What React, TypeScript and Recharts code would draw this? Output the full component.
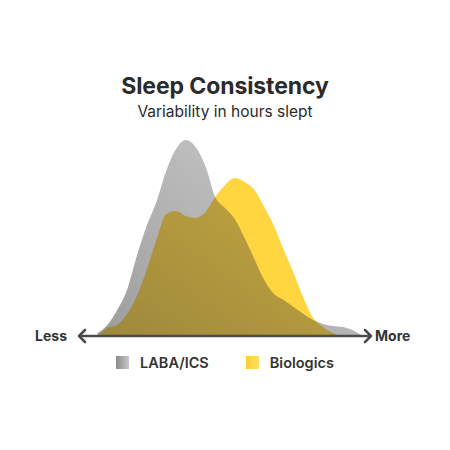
import { AreaChart, Area, XAxis, YAxis, ReferenceLine } from "recharts";

// variability grid (arbitrary units, left = less, right = more)
const spread = [2, 3, 4, 5, 6, 7, 8, 9, 10, 11, 12, 13, 14, 15, 16, 17, 18, 19, 20, 21, 22, 23, 24, 25, 26, 27, 28, 29];
const labaIcs = [3, 11, 26, 46, 80, 110, 134, 165, 187, 196, 189, 170, 139, 128, 117, 98, 77, 56, 42, 36, 29, 22, 16, 12, 10, 9, 6, 0];
const biologics = [0, 8, 11, 22, 40, 66, 96, 122, 125, 120, 118, 124, 139, 151, 158, 154, 146, 129, 110, 86, 63, 38, 18, 9, 3, 0, 0, 0];
const seriesNames = ["LABA/ICS", "Biologics"];
const axisEnds = ["Less", "More"];

const data = spread.map((x, i) => ({ x, laba: labaIcs[i], bio: biologics[i] }));

const FONT = "Inter, 'Noto Sans', sans-serif";

const ArrowAxis = (props: any) => {
  const { x1, y1, x2 } = props;
  const y = y1;
  return (
    <g>
      <line x1={x1 + 1} y1={y} x2={x2 - 1} y2={y} stroke="#4a4a4a" strokeWidth={2.5} />
      <polyline points={`${x1 + 7},${y - 6} ${x1 + 1},${y} ${x1 + 7},${y + 6}`} fill="none" stroke="#4a4a4a" strokeWidth={2.5} strokeLinecap="round" strokeLinejoin="round" />
      <polyline points={`${x2 - 7},${y - 6} ${x2 - 1},${y} ${x2 - 7},${y + 6}`} fill="none" stroke="#4a4a4a" strokeWidth={2.5} strokeLinecap="round" strokeLinejoin="round" />
      <text x={x1 - 11} y={y + 5} textAnchor="end" fontFamily={FONT} fontWeight={700} fontSize={14} fill="#333">{axisEnds[0]}</text>
      <text x={x2 + 3} y={y + 5} textAnchor="start" fontFamily={FONT} fontWeight={700} fontSize={14} fill="#333">{axisEnds[1]}</text>
    </g>
  );
};

export default function App() {
  return (
    <div style={{ position: "absolute", left: 0, top: 0, width: 450, height: 450, background: "#fff", fontFamily: FONT }}>
      <div style={{ position: "absolute", top: 72, width: 450, textAlign: "center", fontSize: 23, fontWeight: 700, color: "#2b2b2b", letterSpacing: -0.1 }}>
        Sleep Consistency
      </div>
      <div style={{ position: "absolute", top: 102, width: 450, textAlign: "center", fontSize: 15.5, color: "#2b2b2b" }}>
        Variability in hours slept
      </div>
      <AreaChart width={450} height={450} data={data} margin={{ top: 136, right: 78, bottom: 114, left: 78 }}>
        <defs>
          <linearGradient id="grayFill" x1="1" y1="0" x2="0" y2="1">
            <stop offset="0%" stopColor="#3a3a3a" stopOpacity={0.25} />
            <stop offset="100%" stopColor="#3a3a3a" stopOpacity={0.5} />
          </linearGradient>
        </defs>
        <XAxis type="number" dataKey="x" domain={[0, 30]} hide />
        <YAxis type="number" domain={[0, 200]} hide />
        <Area type="monotone" dataKey="bio" stroke="none" fill="#ffd540" fillOpacity={1} isAnimationActive={false} />
        <Area type="monotone" dataKey="laba" stroke="none" fill="url(#grayFill)" fillOpacity={1} isAnimationActive={false} />
        <ReferenceLine y={0} shape={ArrowAxis} ifOverflow="visible" />
      </AreaChart>
      <div style={{ position: "absolute", top: 354, left: 0, width: 450, display: "flex", justifyContent: "center", alignItems: "center", fontSize: 14.5, fontWeight: 600, color: "#333" }}>
        <span style={{ width: 13, height: 13, background: "linear-gradient(90deg, #8a8a8a, #c8c8c8)", marginRight: 11 }} />
        <span style={{ marginRight: 37 }}>{seriesNames[0]}</span>
        <span style={{ width: 13, height: 13, background: "linear-gradient(90deg, #ffcc33, #ffe066)", marginRight: 11 }} />
        <span>{seriesNames[1]}</span>
      </div>
    </div>
  );
}
